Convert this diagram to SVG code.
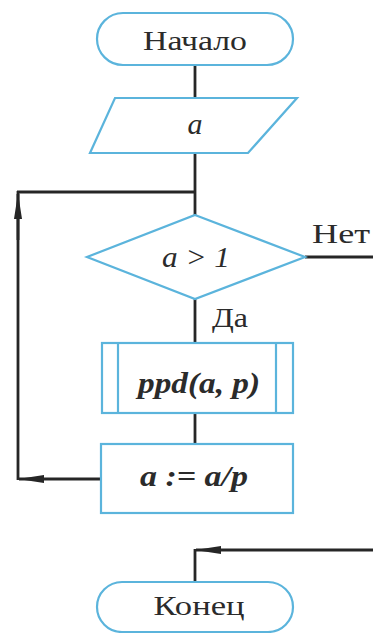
<svg xmlns="http://www.w3.org/2000/svg" width="373" height="633" viewBox="0 0 373 633">
<defs>
<style>
.shape{fill:#fff;stroke:#5bb4dc;stroke-width:2.2}
.line{fill:none;stroke:#262626;stroke-width:2.8}
.t{font-family:"Liberation Serif","DejaVu Serif",serif;font-size:28px;fill:#2b2b2b;text-anchor:middle}
.i{font-style:italic;font-size:30px}
</style>
<marker id="ah" viewBox="0 0 26 10" refX="25" refY="5" markerWidth="26" markerHeight="10" markerUnits="userSpaceOnUse" orient="auto">
<path d="M26,5 L0,1 L0,9 Z" fill="#262626"/>
</marker>
</defs>
<rect width="373" height="633" fill="#fff"/>
<g id="connectors">
<line class="line" x1="195" y1="65" x2="195" y2="98"/>
<line class="line" x1="195" y1="153" x2="195" y2="215"/>
<line class="line" x1="195" y1="299" x2="195" y2="343"/>
<line class="line" x1="195" y1="413" x2="195" y2="444"/>
<line class="line" x1="305" y1="257" x2="373" y2="257"/>
<path class="line" d="M101,479 L19,479" marker-end="url(#ah)"/>
<line class="line" x1="18" y1="480" x2="18" y2="191"/>
<path class="line" d="M18,240 L18,194" marker-end="url(#ah)"/>
<line class="line" x1="17" y1="192" x2="195" y2="192"/>
<path class="line" d="M373,550 L196,550" marker-end="url(#ah)"/>
<line class="line" x1="195" y1="549" x2="195" y2="582"/>
</g>
<g id="start">
<rect class="shape" x="97" y="13" width="196" height="52" rx="26"/>
<text class="t" x="195" y="50" textLength="104" lengthAdjust="spacingAndGlyphs">Начало</text>
</g>
<g id="input">
<polygon class="shape" points="115,98 297,98 248,153 90,153"/>
<text class="t i" x="195" y="134">a</text>
</g>
<g id="decision">
<polygon class="shape" points="195,215 305,257 195,299 87,257"/>
<text class="t i" x="196" y="267" textLength="68" lengthAdjust="spacingAndGlyphs">a &gt; 1</text>
<text class="t" x="341" y="243" textLength="58" lengthAdjust="spacingAndGlyphs">Нет</text>
<text class="t" x="230" y="327" textLength="36" lengthAdjust="spacingAndGlyphs">Да</text>
</g>
<g id="subroutine">
<rect class="shape" x="102" y="343" width="191" height="70"/>
<line class="shape" x1="118" y1="343" x2="118" y2="413"/>
<line class="shape" x1="276" y1="343" x2="276" y2="413"/>
<text class="t i" x="199" y="393" textLength="122" lengthAdjust="spacingAndGlyphs" font-weight="bold">ppd(a, p)</text>
</g>
<g id="assign">
<rect class="shape" x="101" y="444" width="192" height="69"/>
<text class="t i" x="194" y="486" textLength="108" lengthAdjust="spacingAndGlyphs" font-weight="bold">a := a/p</text>
</g>
<g id="end">
<rect class="shape" x="97" y="582" width="196" height="50" rx="25"/>
<text class="t" x="199" y="615" textLength="91" lengthAdjust="spacingAndGlyphs">Конец</text>
</g>
</svg>
